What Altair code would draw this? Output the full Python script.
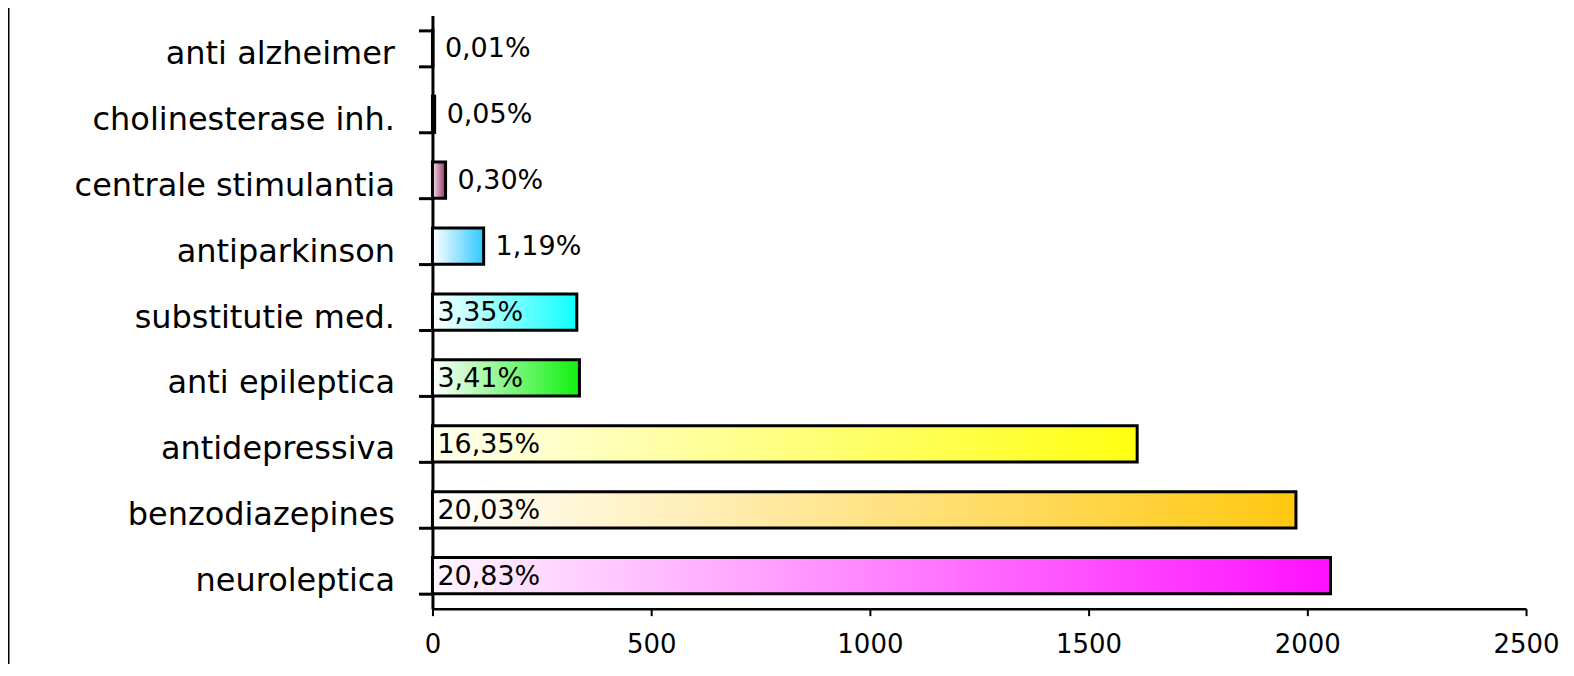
import altair as alt
import pandas as pd

categories = ["neuroleptica", "benzodiazepines", "antidepressiva", "anti epileptica",
              "substitutie med.", "antiparkinson", "centrale stimulantia",
              "cholinesterase inh.", "anti alzheimer"]
counts = [2053, 1974, 1611, 336, 330, 117, 30, 5, 1]
pct_labels = ["20,83%", "20,03%", "16,35%", "3,41%", "3,35%", "1,19%", "0,30%", "0,05%", "0,01%"]
end_colors = ["#FF10FF", "#FFC810", "#FFFF10", "#10F010", "#10FFFF", "#30C8FF",
              "#993366", "#996699", "#996699"]
start_colors = ["#FFF6FF", "#FFFFFF", "#FFFFF0", "#FFFFFF", "#FFFFFF", "#FFFFFF",
                "#F0E0E8", "#FFFFFF", "#FFFFFF"]
x_ticks = [0, 500, 1000, 1500, 2000, 2500]

df = pd.DataFrame({"cat": categories, "count": counts, "pct": pct_labels})
order = categories[::-1]
FONT = "DejaVu Sans"

y_enc = alt.Y("cat:N", sort=order,
              scale=alt.Scale(paddingInner=0.45, paddingOuter=0.225),
              axis=alt.Axis(title=None, tickBand="extent", tickSize=14, tickWidth=3,
                            domainWidth=3, domainColor="black", tickColor="black",
                            labelFont=FONT, labelFontSize=32, labelColor="black",
                            labelPadding=24, labelOffset=5, labelLimit=500))
x_enc = alt.X("count:Q", scale=alt.Scale(domain=[0, 2500], nice=False),
              axis=alt.Axis(title=None, values=x_ticks, format="d", grid=False, tickSize=7,
                            tickWidth=2, domainWidth=2.5, domainColor="black",
                            tickColor="black", labelFont=FONT, labelFontSize=26,
                            labelColor="black", labelPadding=16, labelFlush=False))

base = alt.Chart(df)
layers = []
for cat, sc, ec in zip(categories, start_colors, end_colors):
    grad = alt.LinearGradient(gradient="linear",
                              stops=[alt.GradientStop(color=sc, offset=0),
                                     alt.GradientStop(color=ec, offset=1)],
                              x1=0, x2=1, y1=0, y2=0)
    layers.append(
        base.transform_filter(alt.datum.cat == cat)
        .mark_bar(color=grad, stroke="black", strokeWidth=3)
        .encode(x=x_enc, y=y_enc)
    )

inside = (base.transform_filter(alt.datum.count >= 300)
          .transform_calculate(zero="0")
          .mark_text(align="left", baseline="middle", dx=5, dy=1, font=FONT, fontSize=27, color="black")
          .encode(x=alt.X("zero:Q"), y=alt.Y("cat:N", sort=order), text="pct:N"))
outside = (base.transform_filter(alt.datum.count < 300)
           .mark_text(align="left", baseline="middle", dx=12, dy=1, font=FONT, fontSize=27, color="black")
           .encode(x=alt.X("count:Q"), y=alt.Y("cat:N", sort=order), text="pct:N"))

border = alt.Chart(pd.DataFrame({"a": [0]})).mark_rule(color="black", strokeWidth=3).encode(
    x=alt.value(-425), y=alt.value(-20), y2=alt.value(680))

chart = alt.layer(*layers, inside, outside, border).properties(
    width=1095, height=594,
    background="white",
    autosize=alt.AutoSizeParams(type="none"),
    padding={"left": 425, "top": 7, "right": 40, "bottom": 55},
).configure_view(stroke="transparent", strokeWidth=0)

chart.save("out.html", embed_options={"renderer": "svg", "actions": False})
